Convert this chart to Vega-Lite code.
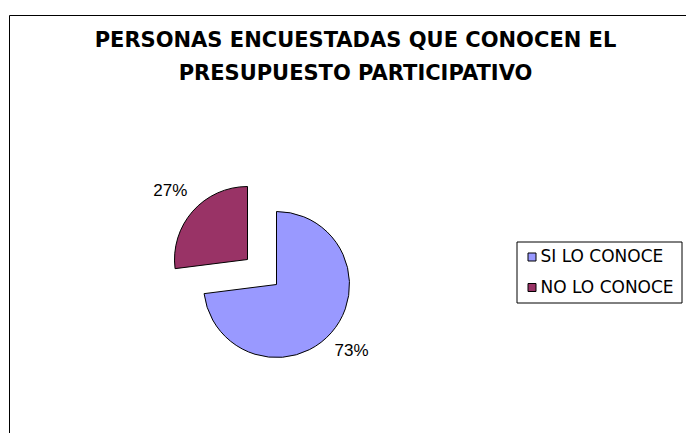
{
  "$schema": "https://vega.github.io/schema/vega-lite/v6.json",
  "width": 700,
  "height": 440,
  "autosize": {"type": "none"},
  "padding": {"left": 9.5, "top": 15.5, "right": 0, "bottom": 0},
  "background": "white",
  "config": {"view": {"stroke": null}, "font": "Liberation Sans"},
  "title": {
    "text": ["PERSONAS ENCUESTADAS QUE CONOCEN EL", "PRESUPUESTO PARTICIPATIVO"],
    "font": "DejaVu Sans",
    "fontSize": 21,
    "fontWeight": "bold",
    "color": "#000",
    "anchor": "middle",
    "orient": "top",
    "frame": "group",
    "baseline": "top",
    "offset": -16,
    "lineHeight": 33,
    "dx": -4,
    "dy": 53
  },
  "data": {
    "values": [
      {"respuesta": "SI LO CONOCE", "porcentaje": 0.73, "orden": 1},
      {"respuesta": "NO LO CONOCE", "porcentaje": 0.27, "orden": 2}
    ]
  },
  "layer": [
    {
      "data": {"values": [{"marco": "borde"}]},
      "mark": {"type": "rect", "fill": null, "stroke": "#000", "strokeWidth": 1},
      "encoding": {}
    },
    {
      "mark": {"type": "arc", "outerRadius": 73, "x": 267, "y": 269, "stroke": "#000", "strokeWidth": 1},
      "encoding": {
        "theta": {"field": "porcentaje", "type": "quantitative", "stack": true},
        "order": {"field": "orden", "type": "quantitative"},
        "color": {
          "field": "respuesta",
          "type": "nominal",
          "scale": {"domain": ["SI LO CONOCE", "NO LO CONOCE"], "range": ["#9999FF", "#993366"]},
          "legend": {
            "title": null,
            "orient": "none",
            "legendX": 507,
            "legendY": 226,
            "direction": "vertical",
            "symbolType": "square",
            "symbolSize": 64,
            "symbolStrokeColor": "#000",
            "symbolStrokeWidth": 1,
            "labelFont": "DejaVu Sans",
            "labelFontSize": 17,
            "labelColor": "#000",
            "labelOffset": 0,
            "rowPadding": 12.5,
            "padding": 7,
            "strokeColor": "#000",
            "fillColor": "#fff",
            "labelLimit": 300
          }
        },
        "opacity": {"condition": {"test": "datum.respuesta === 'SI LO CONOCE'", "value": 1}, "value": 0}
      }
    },
    {
      "mark": {"type": "arc", "outerRadius": 73, "x": 238, "y": 244, "stroke": "#000", "strokeWidth": 1},
      "encoding": {
        "theta": {"field": "porcentaje", "type": "quantitative", "stack": true},
        "order": {"field": "orden", "type": "quantitative"},
        "color": {"field": "respuesta", "type": "nominal"},
        "opacity": {"condition": {"test": "datum.respuesta === 'NO LO CONOCE'", "value": 1}, "value": 0}
      }
    },
    {
      "mark": {"type": "text", "radius": 100, "x": 267, "y": 269, "fontSize": 17, "font": "Liberation Sans", "align": "center", "baseline": "middle", "color": "#000"},
      "encoding": {
        "theta": {"field": "porcentaje", "type": "quantitative", "stack": true},
        "order": {"field": "orden", "type": "quantitative"},
        "text": {"field": "porcentaje", "type": "quantitative", "format": ".0%"},
        "opacity": {"condition": {"test": "datum.respuesta === 'SI LO CONOCE'", "value": 1}, "value": 0}
      }
    },
    {
      "mark": {"type": "text", "radius": 103, "x": 238, "y": 244, "fontSize": 17, "font": "Liberation Sans", "align": "center", "baseline": "middle", "color": "#000"},
      "encoding": {
        "theta": {"field": "porcentaje", "type": "quantitative", "stack": true},
        "order": {"field": "orden", "type": "quantitative"},
        "text": {"field": "porcentaje", "type": "quantitative", "format": ".0%"},
        "opacity": {"condition": {"test": "datum.respuesta === 'NO LO CONOCE'", "value": 1}, "value": 0}
      }
    }
  ]
}
